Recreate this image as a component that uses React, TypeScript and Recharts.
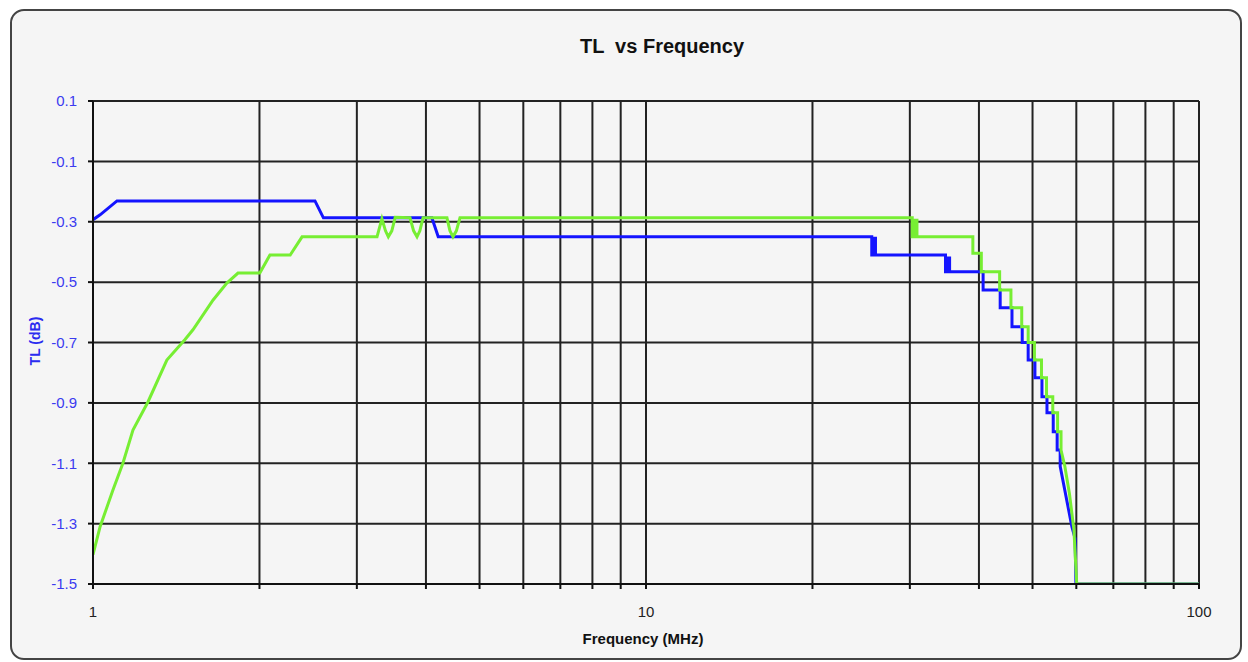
import { LineChart, Line, XAxis, YAxis, CartesianGrid } from 'recharts'

// blue trace
const blueFreq = [1, 1.03, 1.105, 2.52, 2.61, 4.1, 4.21, 25.6, 25.6, 25.8, 25.8, 26.0, 26.0, 26.2, 26.2, 34.8, 34.8, 35.1, 35.1, 35.4, 35.4, 40.7, 40.7, 43.7, 43.7, 45.9, 45.9, 47.9, 47.9, 49.1, 49.1, 50.5, 50.5, 52.0, 52.0, 53.1, 53.1, 54.5, 54.5, 55.4, 55.4, 56.1, 56.1, 58.9, 59.7, 59.9, 100]
const blueTL = [-0.293, -0.277, -0.231, -0.231, -0.287, -0.287, -0.35, -0.35, -0.41, -0.41, -0.355, -0.355, -0.41, -0.41, -0.41, -0.41, -0.466, -0.466, -0.42, -0.42, -0.466, -0.466, -0.526, -0.526, -0.585, -0.585, -0.648, -0.648, -0.7, -0.7, -0.758, -0.758, -0.817, -0.817, -0.88, -0.88, -0.933, -0.933, -0.996, -0.996, -1.056, -1.056, -1.11, -1.31, -1.35, -1.5, -1.5]

// green trace
const greenFreq = [1, 1.03, 1.087, 1.133, 1.181, 1.257, 1.36, 1.467, 1.516, 1.649, 1.746, 1.829, 2.003, 2.089, 2.273, 2.388, 3.263, 3.33, 3.38, 3.42, 3.47, 3.52, 3.743, 3.8, 3.854, 3.9, 3.952, 4.366, 4.42, 4.477, 4.54, 4.609, 30.3, 30.3, 30.6, 30.6, 30.9, 30.9, 39.0, 39.0, 40.4, 40.4, 43.6, 43.6, 45.7, 45.7, 47.8, 47.8, 49.1, 49.1, 50.4, 50.4, 51.9, 51.9, 53.0, 53.0, 54.4, 54.4, 55.5, 55.5, 56.3, 56.3, 57.2, 58.3, 59.4, 60.1, 100]
const greenTL = [-1.403, -1.31, -1.188, -1.099, -0.99, -0.897, -0.758, -0.69, -0.658, -0.559, -0.503, -0.47, -0.47, -0.41, -0.41, -0.35, -0.35, -0.29, -0.33, -0.35, -0.33, -0.285, -0.287, -0.33, -0.35, -0.33, -0.287, -0.287, -0.33, -0.35, -0.33, -0.287, -0.287, -0.35, -0.35, -0.295, -0.295, -0.35, -0.35, -0.404, -0.404, -0.466, -0.466, -0.526, -0.526, -0.585, -0.585, -0.648, -0.648, -0.7, -0.7, -0.758, -0.758, -0.817, -0.817, -0.88, -0.88, -0.933, -0.933, -0.996, -0.996, -1.056, -1.11, -1.2, -1.32, -1.5, -1.5]

const xTicks = [1, 2, 3, 4, 5, 6, 7, 8, 9, 10, 20, 30, 40, 50, 60, 70, 80, 90, 100]
const xLabels = [1, 10, 100]
const yTicks = [-1.5, -1.3, -1.1, -0.9, -0.7, -0.5, -0.3, -0.1, 0.1]

const blueData = blueFreq.map((f, i) => ({ f, v: blueTL[i] }))
const greenData = greenFreq.map((f, i) => ({ f, v: greenTL[i] }))

const font = '"Liberation Sans", Arial, sans-serif'

export default function App() {
  return (
    <div style={{ position: 'absolute', left: 0, top: 0, width: 1248, height: 662, background: '#fff', fontFamily: font }}>
      <div style={{ position: 'absolute', left: 10, top: 9, width: 1228, height: 647, border: '2px solid #444', borderRadius: 14, background: '#f5f5f5' }} />
      <div style={{ position: 'absolute', left: 0, top: 0 }}>
        <LineChart width={1248} height={662} data={blueData} margin={{ top: 101, right: 49, left: 33, bottom: 38 }}>
          <CartesianGrid stroke="#222" strokeWidth={2} />
          <XAxis
            dataKey="f"
            type="number"
            scale="log"
            domain={[1, 100]}
            ticks={xTicks}
            allowDataOverflow
            height={40}
            stroke="#111"
            strokeWidth={2}
            tickSize={5}
            tickMargin={17}
            tick={{ fill: '#222', fontSize: 15, fontFamily: font }}
            tickFormatter={(t: number) => (xLabels.includes(t) ? String(t) : '')}
          />
          <YAxis
            type="number"
            domain={[-1.5, 0.1]}
            ticks={yTicks}
            allowDataOverflow
            width={60}
            stroke="#111"
            strokeWidth={2}
            tickSize={5}
            tickMargin={11}
            tick={{ fill: '#3b3bf0', fontSize: 15, fontFamily: font }}
            tickFormatter={(t: number) => t.toFixed(1)}
          />
          <Line data={blueData} dataKey="v" type="linear" stroke="#1414ff" strokeWidth={3} dot={false} isAnimationActive={false} />
          <Line data={greenData} dataKey="v" type="linear" stroke="#77ee33" strokeWidth={3} dot={false} isAnimationActive={false} />
        </LineChart>
      </div>
      <div style={{ position: 'absolute', left: 462, width: 400, top: 35, textAlign: 'center', fontSize: 20, fontWeight: 'bold', whiteSpace: 'pre', color: '#111' }}>
        {'TL  vs Frequency'}
      </div>
      <div style={{ position: 'absolute', left: 443, width: 400, top: 630, textAlign: 'center', fontSize: 15, fontWeight: 'bold', color: '#111' }}>
        Frequency (MHz)
      </div>
      <div style={{ position: 'absolute', left: -15, width: 100, top: 333, textAlign: 'center', fontSize: 14, fontWeight: 'bold', color: '#2b2bf0', transform: 'rotate(-90deg)' }}>
        TL (dB)
      </div>
    </div>
  )
}
